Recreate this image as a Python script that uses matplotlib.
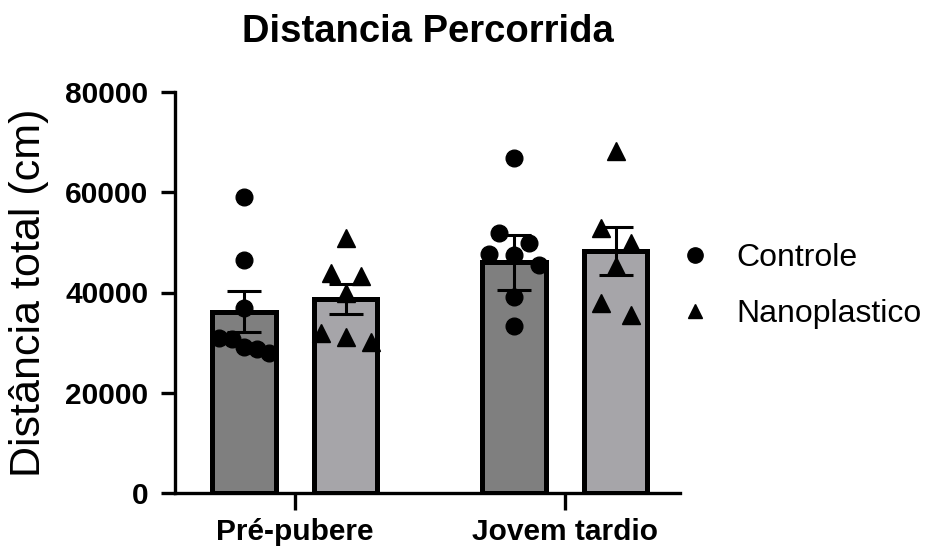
import numpy as np
import matplotlib
matplotlib.use('Agg')
import matplotlib.pyplot as plt
from matplotlib.lines import Line2D

plt.rcParams['font.family'] = ['Liberation Sans', 'DejaVu Sans']

groups = ['Pré-pubere', 'Jovem tardio']
series = ['Controle', 'Nanoplastico']

# bar heights (mean) and SEM per group
controle_mean = [36200, 46000]
controle_sem = [4000, 5500]
nano_mean = [38700, 48300]
nano_sem = [3000, 4800]

# individual animals
controle_pts = [
    [59100, 46500, 36900, 30900, 30700, 29200, 28700, 27900],
    [66800, 51800, 49800, 47700, 47500, 45500, 39200, 33300],
]
nano_pts = [
    [50800, 43800, 43300, 39900, 31900, 31200, 30200],
    [68300, 52800, 49800, 45200, 37900, 35500],
]


def spread(values, row_h=3500):
    # put close values on one row and spread them sideways
    vals = sorted(values, reverse=True)
    rows, cur = [], [vals[0]]
    for v in vals[1:]:
        if cur[0] - v <= row_h:
            cur.append(v)
        else:
            rows.append(cur)
            cur = [v]
    rows.append(cur)
    xs, ys = [], []
    for r in rows:
        n = len(r)
        half = 0.0 if n == 1 else (0.055 if n == 2 else 0.092)
        dx = np.linspace(-half, half, n)
        xs.extend(dx)
        ys.extend(r)
    return np.array(xs), np.array(ys)


fig = plt.figure(figsize=(9.28, 5.52), dpi=100)
ax = fig.add_axes([175 / 928, 1 - 493 / 552, 505 / 928, 401 / 552])

x = np.arange(len(groups))
off = 0.188
w = 0.235
colors = ['#7f7f7f', '#a6a5a9']
markers = ['o', '^']
msizes = [12, 13]

for k, (means, sems, pts) in enumerate([(controle_mean, controle_sem, controle_pts),
                                        (nano_mean, nano_sem, nano_pts)]):
    pos = x + (2 * k - 1) * off
    ax.bar(pos, means, width=w, color=colors[k], edgecolor='black',
           linewidth=3.6, zorder=2)
    ax.errorbar(pos, means, yerr=sems, fmt='none', ecolor='black',
                elinewidth=2.2, capsize=12, capthick=2.2, zorder=3)
    for g in range(len(groups)):
        dx, ys = spread(pts[g])
        ax.plot(pos[g] + dx, ys, linestyle='none', marker=markers[k],
                markersize=msizes[k], color='black', zorder=4)

ax.set_xlim(-0.444, 1.426)
ax.set_ylim(0, 80000)
ax.set_yticks([0, 20000, 40000, 60000, 80000])
ax.set_xticks(x)
ax.set_xticklabels(groups)
for s in ['top', 'right']:
    ax.spines[s].set_visible(False)
for s in ['left', 'bottom']:
    ax.spines[s].set_linewidth(2.4)
ax.tick_params(axis='y', length=10, width=2.4, labelsize=21.5, pad=9)
ax.tick_params(axis='x', length=12, width=2.4, labelsize=21.5, pad=6)
for lab in ax.get_xticklabels() + ax.get_yticklabels():
    lab.set_fontweight('bold')

ax.set_ylabel('Distância total (cm)', fontsize=31, labelpad=12)
ax.set_title('Distancia Percorrida', fontsize=27.5, fontweight='bold', pad=36)

handles = [Line2D([], [], linestyle='none', marker=markers[k], markersize=[11, 10][k],
                  color='black') for k in range(2)]
fig.legend(handles, series, loc='center left', bbox_to_anchor=(0.697, 0.482),
           frameon=False, fontsize=23, handletextpad=0.7, labelspacing=0.8,
           handlelength=1.2)

fig.savefig('out.png', dpi=100, facecolor='white')
